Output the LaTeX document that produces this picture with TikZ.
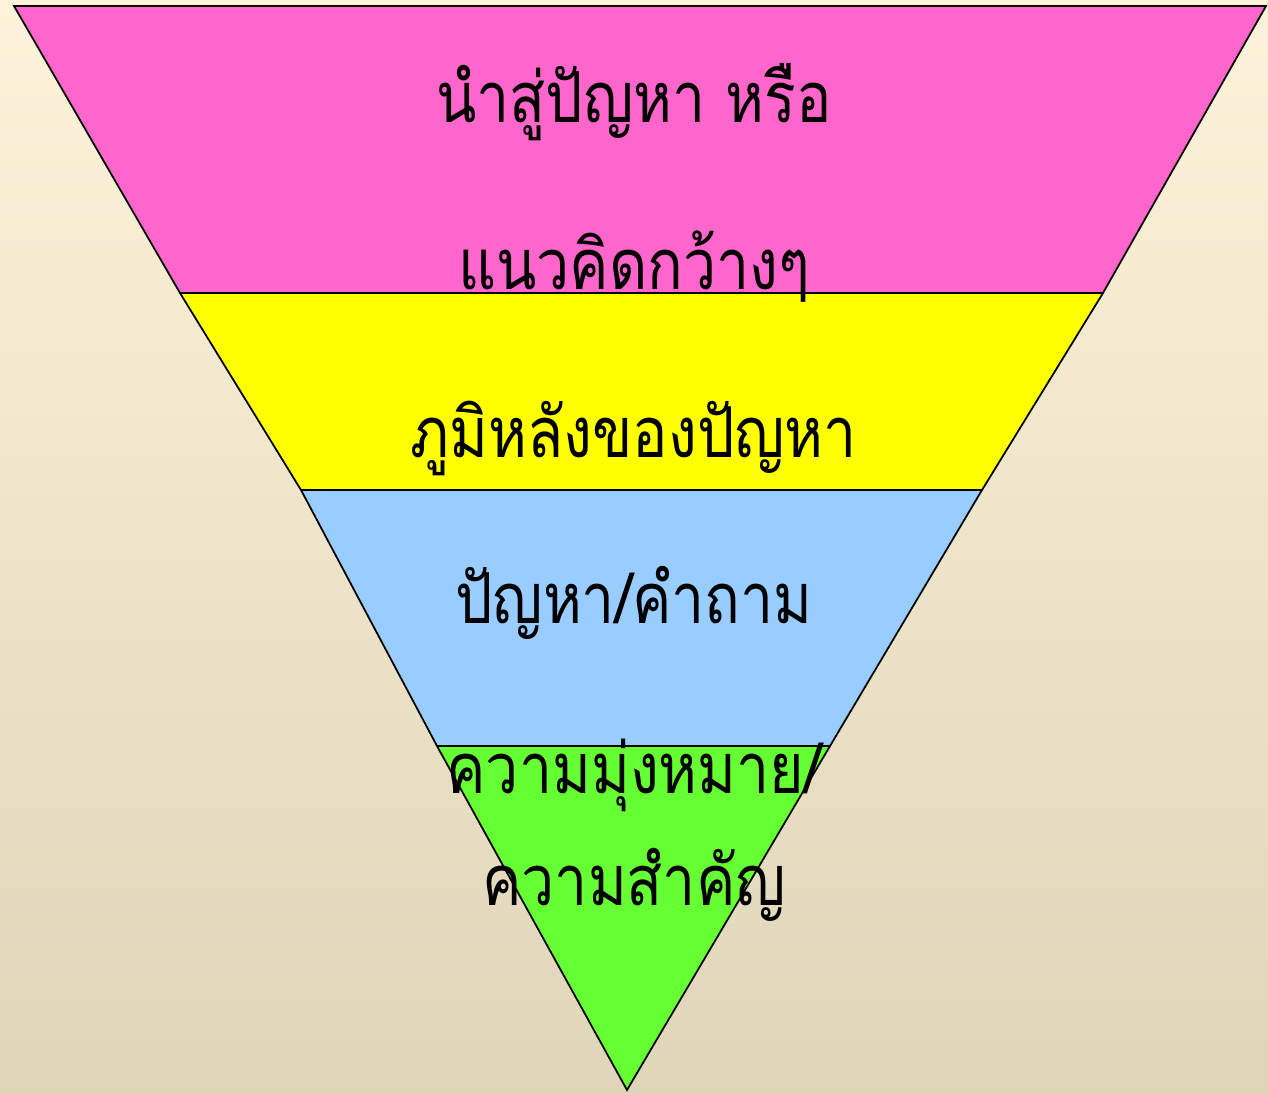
\documentclass[tikz,border=0pt]{standalone}
\usepackage{graphicx}
\usepackage{fontspec}
\newfontfamily\thaifont[Script=Thai]{Loma}
\definecolor{bgtop}{HTML}{FCF3DA}
\definecolor{bgbot}{HTML}{DFD5B9}
\definecolor{bandpink}{HTML}{FF66CC}
\definecolor{bandyellow}{HTML}{FFFF00}
\definecolor{bandblue}{HTML}{99CCFF}
\definecolor{bandgreen}{HTML}{66FF33}
\newcommand{\narrowtext}[1]{\scalebox{0.84}[1]{#1}}
\tikzset{
  band/.style={draw=black, line width=1pt, line join=miter},
  lbl/.style={anchor=base, inner sep=0pt, font=\thaifont\fontsize{40}{48}\selectfont, text=black}
}
\begin{document}
\begin{tikzpicture}[x=0.02cm, y=-0.02cm]
\shade[top color=bgtop, bottom color=bgbot] (0,0) rectangle (1268,1093);
\useasboundingbox (0,0) rectangle (1268,1093);
\coordinate (p1) at (14,6);
\coordinate (p2) at (1266,6);
\coordinate (p3) at (1103,293);
\coordinate (p4) at (180,293);
\coordinate (p5) at (982,490);
\coordinate (p6) at (301,490);
\coordinate (p7) at (830,746);
\coordinate (p8) at (437,746);
\coordinate (p9) at (627,1090);
\fill[bandpink] (p1) -- (p2) -- (p3) -- (p4) -- cycle;
\fill[bandyellow] (p4) -- (p3) -- (p5) -- (p6) -- cycle;
\fill[bandblue] (p6) -- (p5) -- (p7) -- (p8) -- cycle;
\fill[bandgreen] (p8) -- (p7) -- (p9) -- cycle;
\draw[band] (p1) -- (p2) -- (p3) -- (p5) -- (p7) -- (p9) -- (p8) -- (p6) -- (p4) -- cycle;
\draw[band] (p4) -- (p3);
\draw[band] (p6) -- (p5);
\draw[band] (p8) -- (p7);
\node[lbl] (t1) at (634,122) {\narrowtext{นำสู่ปัญหา หรือ}};
\node[lbl] (t2) at (634,289) {\narrowtext{แนวคิดกว้างๆ}};
\node[lbl] (t3) at (634,457) {\narrowtext{ภูมิหลังของปัญหา}};
\node[lbl] (t4) at (634,623) {\narrowtext{ปัญหา/คำถาม}};
\node[lbl] (t5) at (634,793) {\narrowtext{ความมุ่งหมาย/}};
\node[lbl] (t6) at (634,905) {\narrowtext{ความสำคัญ}};
\end{tikzpicture}
\end{document}
